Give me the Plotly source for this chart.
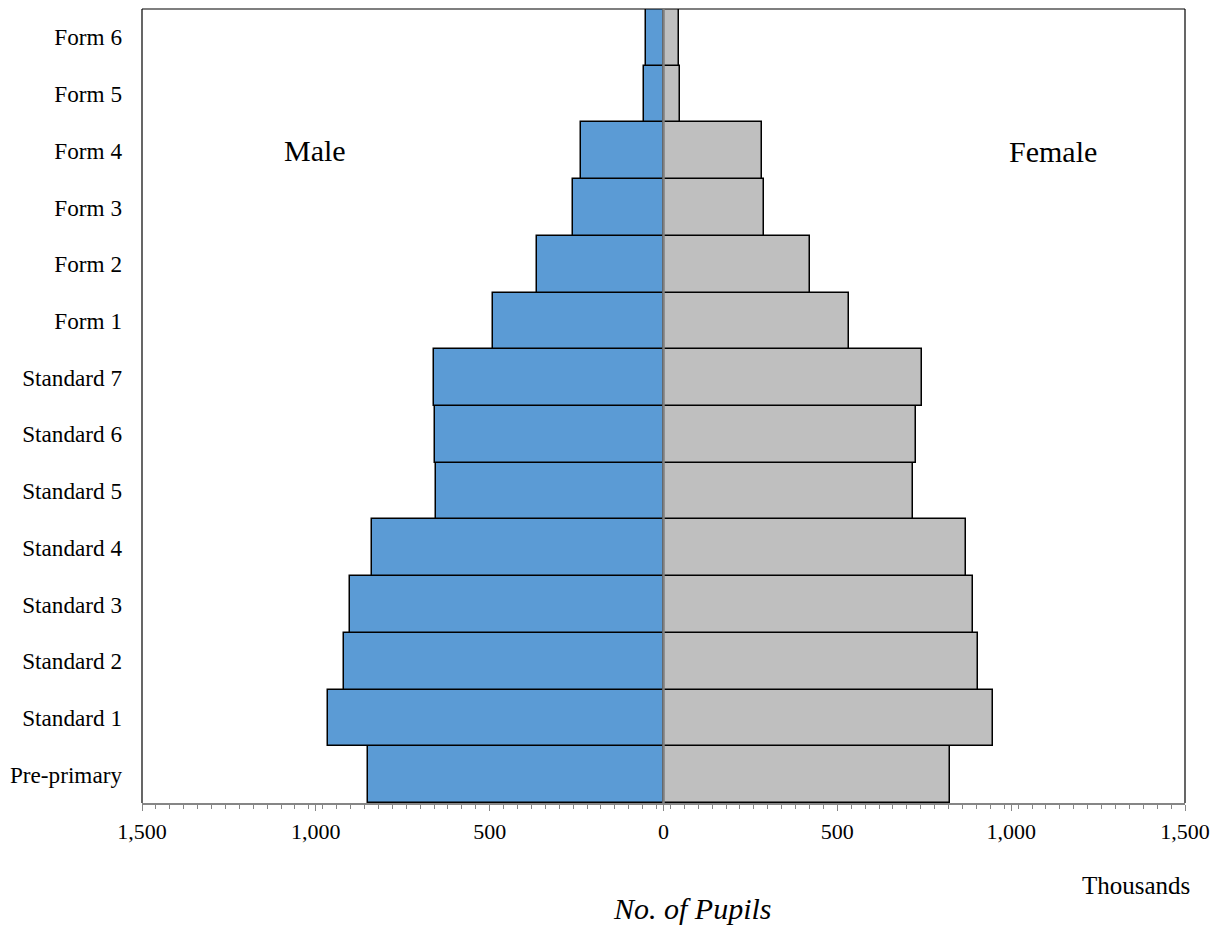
import plotly.graph_objects as go

categories = ["Pre-primary", "Standard 1", "Standard 2", "Standard 3", "Standard 4",
              "Standard 5", "Standard 6", "Standard 7", "Form 1", "Form 2",
              "Form 3", "Form 4", "Form 5", "Form 6"]
male = [851, 966, 920, 902, 839, 655, 658, 661, 489, 365, 259, 238, 57, 50]
female = [825, 948, 905, 891, 871, 718, 727, 744, 534, 420, 290, 282, 47, 44]
tick_vals = [-1500, -1000, -500, 0, 500, 1000, 1500]
tick_text = ["1,500", "1,000", "500", "0", "500", "1,000", "1,500"]

FONT = "Liberation Serif, Times New Roman, serif"

fig = go.Figure()
fig.add_trace(go.Bar(
    y=categories, x=[-v for v in male], orientation="h", name="Male",
    marker=dict(color="#5B9BD5", line=dict(color="black", width=1.5)),
))
fig.add_trace(go.Bar(
    y=categories, x=female, orientation="h", name="Female",
    marker=dict(color="#BFBFBF", line=dict(color="black", width=1.5)),
))

fig.update_layout(
    width=1212, height=921,
    margin=dict(l=134, r=35, t=1, b=126),
    barmode="relative", bargap=0,
    showlegend=False,
    plot_bgcolor="white", paper_bgcolor="white",
    font=dict(family=FONT, size=22, color="black"),
)
fig.update_xaxes(
    range=[-1500, 1500], tickvals=tick_vals, ticktext=tick_text,
    showgrid=False, zeroline=False, automargin=False,
    showline=True, linecolor="#868686", linewidth=1.5,
    ticks="outside", ticklen=6, tickcolor="#868686", tickwidth=1,
    minor=dict(tick0=-1500, dtick=40, ticks="outside", ticklen=4,
               tickcolor="#868686", tickwidth=1, showgrid=False),
    tickfont=dict(family=FONT, size=22, color="black"),
    ticklabelstandoff=2,
)
fig.update_yaxes(
    showgrid=False, zeroline=False, showline=False, ticks="", automargin=False,
    tickfont=dict(family=FONT, size=23.2, color="black"),
    ticklabelstandoff=19,
)

# frame (top/left/right) and zero line
fig.add_shape(type="line", xref="paper", yref="paper", x0=0, x1=0, y0=0, y1=1,
              line=dict(color="black", width=1.2))
fig.add_shape(type="line", xref="paper", yref="paper", x0=1, x1=1, y0=0, y1=1,
              line=dict(color="black", width=1.2))
fig.add_shape(type="line", xref="paper", yref="paper", x0=0, x1=1, y0=1, y1=1,
              line=dict(color="black", width=1.2))
fig.add_shape(type="line", xref="x", yref="paper", x0=0, x1=0, y0=0, y1=1,
              line=dict(color="#7F7F7F", width=2.5), layer="above")

fig.add_annotation(x=-1003, y="Form 4", xref="x", yref="y", text="Male",
                   showarrow=False, font=dict(family=FONT, size=30, color="black"))
fig.add_annotation(x=1119, y="Form 4", xref="x", yref="y", text="Female",
                   showarrow=False, font=dict(family=FONT, size=30, color="black"),
                   yshift=-1)
fig.add_annotation(x=0.953, y=-0.1045, xref="paper", yref="paper", text="Thousands",
                   xanchor="center", yanchor="middle",
                   showarrow=False, font=dict(family=FONT, size=25, color="black"))
fig.add_annotation(x=0.528, y=-0.1335, xref="paper", yref="paper",
                   text="<i>No. of Pupils</i>", xanchor="center", yanchor="middle",
                   showarrow=False, font=dict(family=FONT, size=30, color="black"))

fig.write_html("out.html")
